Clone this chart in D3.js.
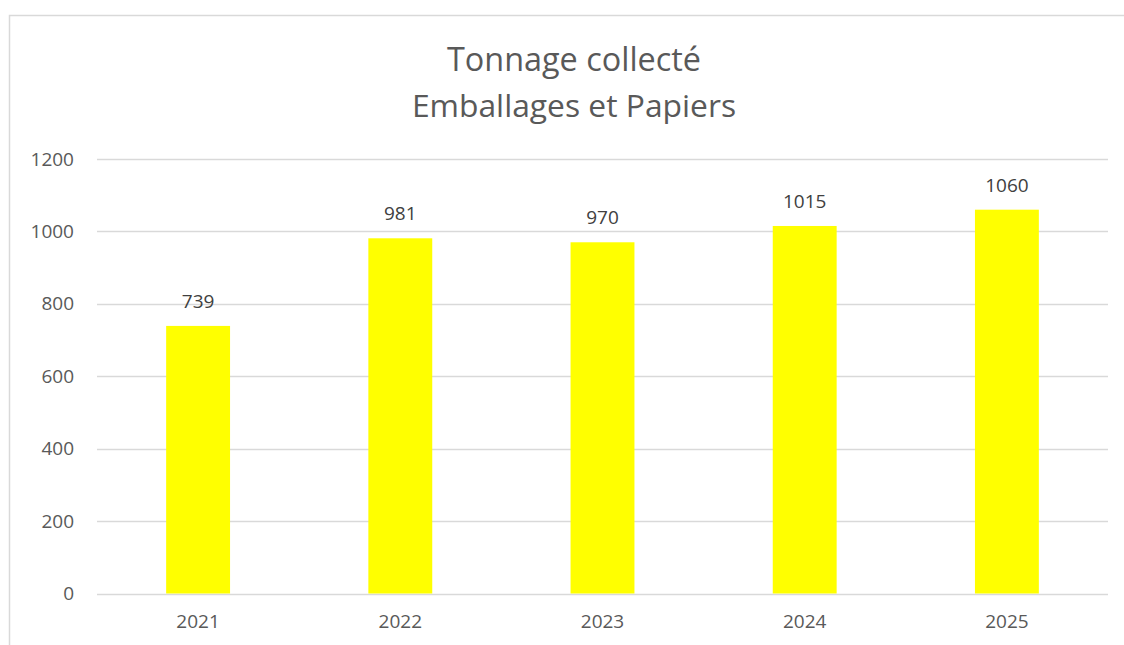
<!DOCTYPE html>
<meta charset="utf-8">
<script src="https://d3js.org/d3.v7.min.js"></script>
<style>
  body { margin: 0; background: #fff; }
  svg { display: block; }
  svg text { font-family: "Open Sans", "Noto Sans", sans-serif; }
</style>
<div id="chart"></div>
<script>
  // data
  const years = ["2021", "2022", "2023", "2024", "2025"];
  const tonnage = [739, 981, 970, 1015, 1060];
  const yTicks = [0, 200, 400, 600, 800, 1000, 1200];
  const titleLines = ["Tonnage collecté", "Emballages et Papiers"];

  const W = 1124, H = 645;
  const margin = {top: 159, right: 16, bottom: 51.5, left: 97};
  const width = W - margin.left - margin.right,
        height = H - margin.top - margin.bottom;

  const svg = d3.select("#chart").append("svg")
    .attr("width", W)
    .attr("height", H);

  // chart frame
  svg.append("path")
    .attr("d", `M9.5,${H} V15.5 H${W}`)
    .attr("fill", "none")
    .attr("stroke", "#d9d9d9")
    .attr("stroke-width", 1.5);

  // title, two lines
  svg.append("g")
    .selectAll("text")
    .data(titleLines)
    .join("text")
      .attr("x", 574)
      .attr("y", (d, i) => 71 + i * 46)
      .attr("text-anchor", "middle")
      .attr("fill", "#595959")
      .style("font-size", (d, i) => i ? "31.8px" : "32.4px")
      .text(d => d);

  const g = svg.append("g")
    .attr("transform", `translate(${margin.left},${margin.top})`);

  const x = d3.scaleBand()
    .domain(years)
    .range([0, width])
    .paddingInner(0.684)
    .paddingOuter(0.342);

  const y = d3.scaleLinear()
    .domain([0, 1200])
    .range([height, 0]);

  // gridlines
  g.append("g")
    .selectAll("line")
    .data(yTicks)
    .join("line")
      .attr("x1", 0)
      .attr("x2", width)
      .attr("y1", d => Math.round(y(d)) + 0.5)
      .attr("y2", d => Math.round(y(d)) + 0.5)
      .attr("stroke", "#d9d9d9")
      .attr("stroke-width", 1.5);

  // y axis labels
  const yAxis = g.append("g")
    .call(d3.axisLeft(y).tickValues(yTicks).tickFormat(d3.format("d")).tickSize(0).tickPadding(23))
  yAxis.attr("font-family", null);
  yAxis.select(".domain").remove();
  yAxis.selectAll("text")
    .attr("fill", "#595959")
    .style("font-size", "19px");

  // x axis labels
  const xAxis = g.append("g")
    .attr("transform", `translate(0,${height})`)
    .call(d3.axisBottom(x).tickSize(0).tickPadding(21))
  xAxis.attr("font-family", null);
  xAxis.select(".domain").remove();
  xAxis.selectAll("text")
    .attr("fill", "#595959")
    .style("font-size", "19px");

  // bars
  g.selectAll("rect.bar")
    .data(tonnage)
    .join("rect")
      .attr("class", "bar")
      .attr("x", (d, i) => x(years[i]))
      .attr("y", d => y(d))
      .attr("width", x.bandwidth())
      .attr("height", d => height - y(d))
      .attr("fill", "#ffff00");

  // value labels
  g.selectAll("text.val")
    .data(tonnage)
    .join("text")
      .attr("class", "val")
      .attr("x", (d, i) => x(years[i]) + x.bandwidth() / 2)
      .attr("y", d => y(d) - 18)
      .attr("text-anchor", "middle")
      .attr("fill", "#404040")
      .style("font-size", "19px")
      .text(d => d);
</script>
